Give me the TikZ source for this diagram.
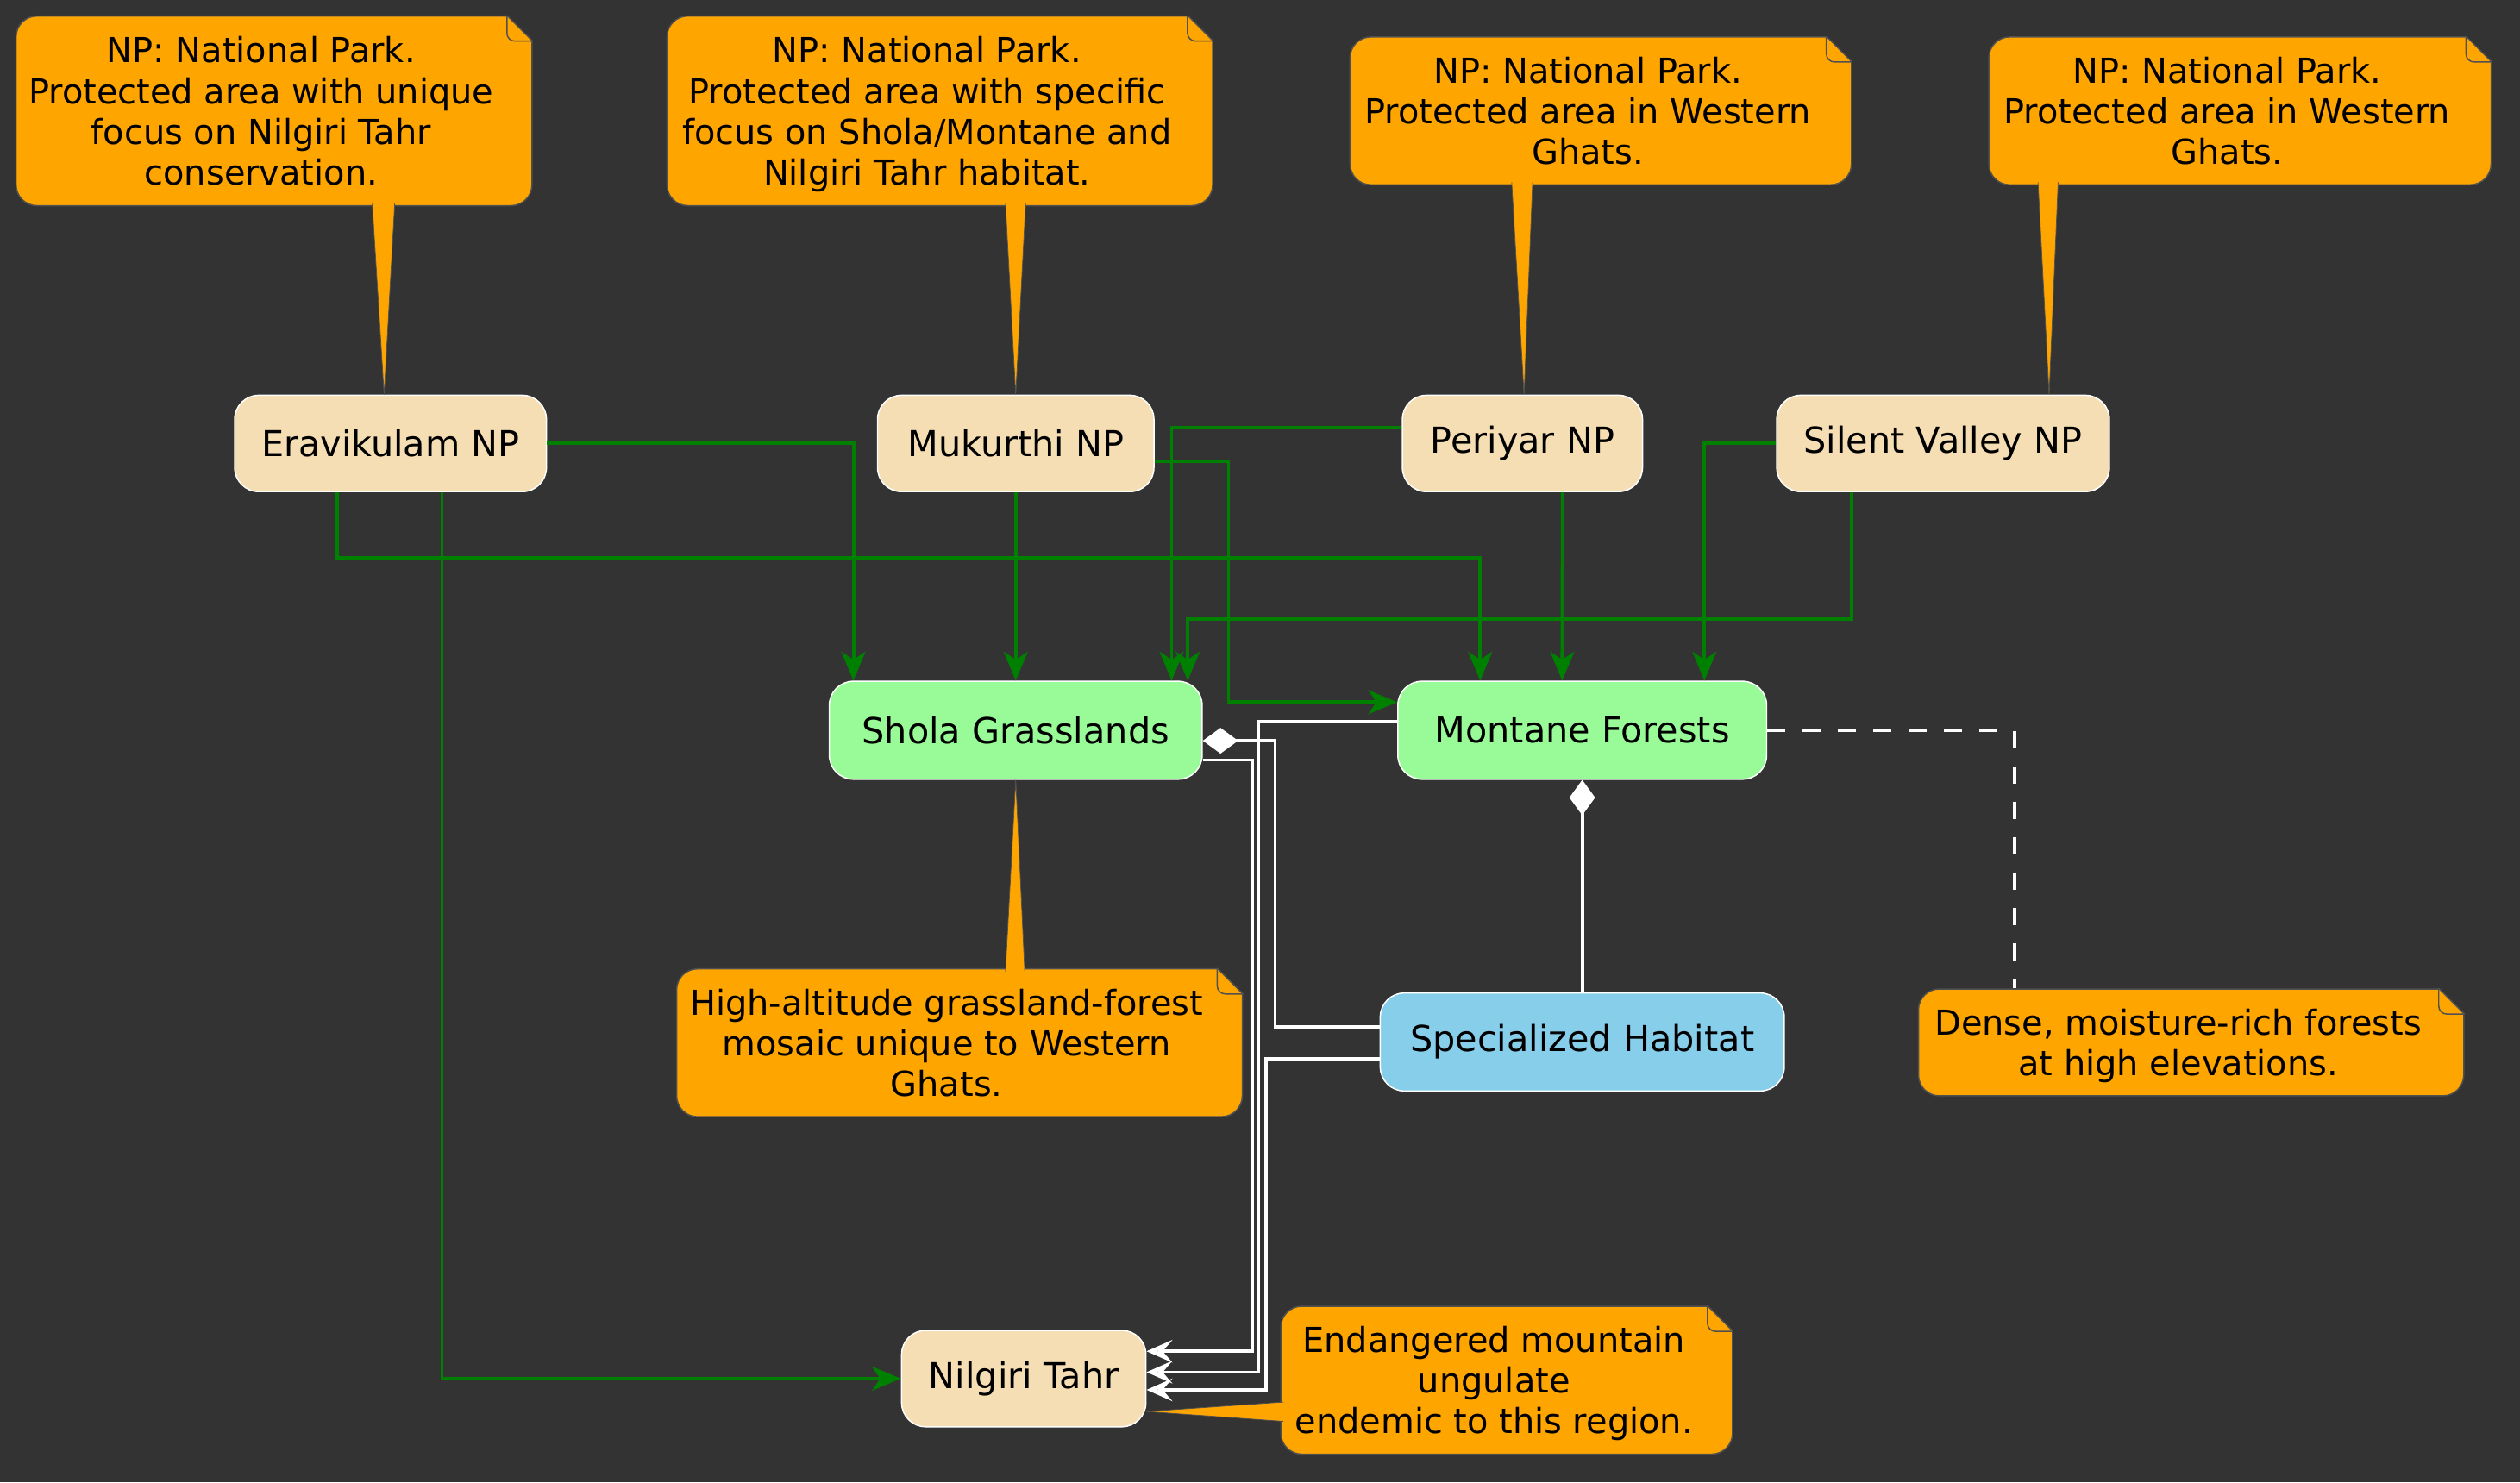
\documentclass[tikz,border=0pt]{standalone}
\usepackage{fontspec}
\setmainfont{DejaVu Sans}
\usetikzlibrary{arrows.meta,calc}
\definecolor{bgc}{HTML}{333333}
\definecolor{wheatc}{HTML}{F5DEB3}
\definecolor{palegreenc}{HTML}{98FB98}
\definecolor{skybluec}{HTML}{87CEEB}
\definecolor{notec}{HTML}{FFA500}
\definecolor{notelinec}{HTML}{505050}
\definecolor{glinec}{HTML}{008000}
\newcommand\notefold[1]{%
  \fill[bgc] ($(#1.north east)+(-16,0)$) -- ($(#1.north east)+(-16,-3)$) -- ($(#1.north east)+(3,-3)$) -- ($(#1.north east)+(3,16)$) -- ($(#1.north east)+(0,16)$) -- cycle;
  \draw[notelinec, line width=0.8pt] ($(#1.north east)+(-16,0)$) -- ($(#1.north east)+(0,16)$);
  \draw[notelinec, line width=0.8pt] ($(#1.north east)+(-16,0)$) -- ($(#1.north east)+(-16,11)$) to[out=-90,in=180] ($(#1.north east)+(-11,16)$) -- ($(#1.north east)+(0,16)$);
}
\newcommand\notepointer[3]{%
  \path[fill=notec, draw=notelinec, line width=0.4pt] #1 -- #3 -- #2;
}
\newcommand\notetext[1]{\raisebox{-3pt}[\height][\depth]{\begin{tabular}{@{}c@{\hspace{16pt}}}#1\end{tabular}}}
\begin{document}
\begin{tikzpicture}[x=1pt,y=-1pt,
  box/.style={rectangle, rounded corners=15pt, draw=white, line width=0.8pt, text=black, inner sep=0pt, font=\fontsize{22.2}{25.4}\selectfont},
  place/.style={box, fill=wheatc},
  ecobox/.style={box, fill=palegreenc},
  habbox/.style={box, fill=skybluec},
  notebox/.style={rectangle, rounded corners=13pt, draw=notelinec, line width=0.8pt, fill=notec, text=black, inner sep=0pt, font=\fontsize{21.4}{25.3}\selectfont},
  garrow/.style={draw=glinec, line width=2.1pt, -{Stealth[length=18pt,width=15pt,inset=5pt]}},
  warrow/.style={draw=white, line width=2pt, -{Stealth[open,length=16pt,width=14pt,inset=6pt,line width=2.4pt]}},
  wlink/.style={draw=white, line width=2pt},
  diamstart/.style={{Diamond[length=22pt,width=16pt,fill=white]}-}
]
\fill[bgc] (0,0) rectangle (1568,922.46);
\useasboundingbox (0,0) rectangle (1568,922.46);

% notes
\node[notebox, minimum width=321pt, minimum height=118pt] (n1) at (170.5,69) {\notetext{NP: National Park.\\Protected area with unique\\focus on Nilgiri Tahr\\conservation.}};
\node[notebox, minimum width=339.5pt, minimum height=118pt] (n2) at (584.75,69) {\notetext{NP: National Park.\\Protected area with specific\\focus on Shola/Montane and\\Nilgiri Tahr habitat.}};
\node[notebox, minimum width=312pt, minimum height=92pt] (n3) at (996,69) {\notetext{NP: National Park.\\Protected area in Western\\Ghats.}};
\node[notebox, minimum width=312.5pt, minimum height=92pt] (n4) at (1393.75,69) {\notetext{NP: National Park.\\Protected area in Western\\Ghats.}};
\node[notebox, minimum width=352pt, minimum height=92pt] (n5) at (597,649) {\notetext{High-altitude grassland-forest\\mosaic unique to Western\\Ghats.}};
\node[notebox, minimum width=339.3pt, minimum height=66.5pt] (n6) at (1363.35,648.75) {\notetext{Dense, moisture-rich forests\\at high elevations.}};
\node[notebox, minimum width=281pt, minimum height=92pt] (n7) at (937.5,859) {\notetext{Endangered mountain\\ungulate\\endemic to this region.}};
\foreach \n in {n1,n2,n3,n4,n5,n6,n7} {\notefold{\n}}

% main nodes
\node[place, minimum width=194pt, minimum height=60pt] (erav) at (243,276) {Eravikulam NP};
\node[place, minimum width=172pt, minimum height=60pt] (muk) at (632,276) {Mukurthi NP};
\node[place, minimum width=149.4pt, minimum height=60pt] (peri) at (947.3,276) {Periyar NP};
\node[place, minimum width=207pt, minimum height=60pt] (silent) at (1209,276) {Silent Valley NP};
\node[ecobox, minimum width=232pt, minimum height=61pt] (shola) at (632,454.5) {Shola Grasslands};
\node[ecobox, minimum width=229.5pt, minimum height=61pt] (mont) at (984.5,454.5) {Montane Forests};
\node[habbox, minimum width=251.4pt, minimum height=61pt] (hab) at (984.5,648.5) {Specialized Habitat};
\node[place, minimum width=152pt, minimum height=60pt] (nilg) at (637,858) {Nilgiri Tahr};

% note pointers
\notepointer{($(n1.south west)+(222,-2)$)}{($(n1.south west)+(236,-2)$)}{([xshift=-4pt]erav.north)}
\notepointer{($(n2.south west)+(211,-2)$)}{($(n2.south west)+(223.6,-2)$)}{(muk.north)}
\notepointer{($(n3.south west)+(101,-2)$)}{($(n3.south west)+(114,-2)$)}{([xshift=1pt]peri.north)}
\notepointer{($(n4.south west)+(31,-2)$)}{($(n4.south west)+(43.5,-2)$)}{([xshift=66pt]silent.north)}
\notepointer{($(n5.north west)+(205,2)$)}{($(n5.north west)+(217,2)$)}{(shola.south)}
\notepointer{($(n7.north west)+(2,60)$)}{($(n7.north west)+(2,72)$)}{([yshift=-20.5pt]nilg.east)}

% green connectors
\draw[garrow] (erav.east) -| ([xshift=-101pt]shola.north);
\draw[garrow] ([xshift=-33pt]erav.south) -- ++(0,41) -| ([xshift=-63.5pt]mont.north);
\draw[garrow] ([xshift=32pt]erav.south) |- (nilg.west);
\draw[garrow] (muk.south) -- (shola.north);
\draw[garrow] ([yshift=-11pt]muk.east) -- ++(46,0) |- ([yshift=17.5pt]mont.west);
\draw[garrow] ([yshift=10pt]peri.west) -| ([xshift=97pt]shola.north);
\draw[garrow] ([xshift=25pt]peri.south) -- ([xshift=-12.5pt]mont.north);
\draw[garrow] (silent.west) -| ([xshift=76pt]mont.north);
\draw[garrow] ([xshift=-57pt]silent.south) -- ++(0,79) -| ([xshift=107pt]shola.north);

% white connectors
\draw[warrow] ([yshift=-18.5pt]shola.east) -- ++(31,0) |- ([yshift=17pt]nilg.east);
\draw[warrow] ([yshift=5.5pt]mont.west) -- ++(-86.5,0) |- ([yshift=4pt]nilg.east);
\draw[warrow] ([yshift=-10.5pt]hab.west) -- ++(-70.6,0) |- ([yshift=-7pt]nilg.east);
\draw[wlink, diamstart] ([yshift=-6.5pt]shola.east) -- ++(45,0) |- ([yshift=9.5pt]hab.west);
\draw[wlink, diamstart] (mont.south) -- (hab.north);
\draw[wlink, dash pattern=on 11pt off 11pt] (mont.east) -| ([xshift=-110pt]n6.north);
\end{tikzpicture}
\end{document}
